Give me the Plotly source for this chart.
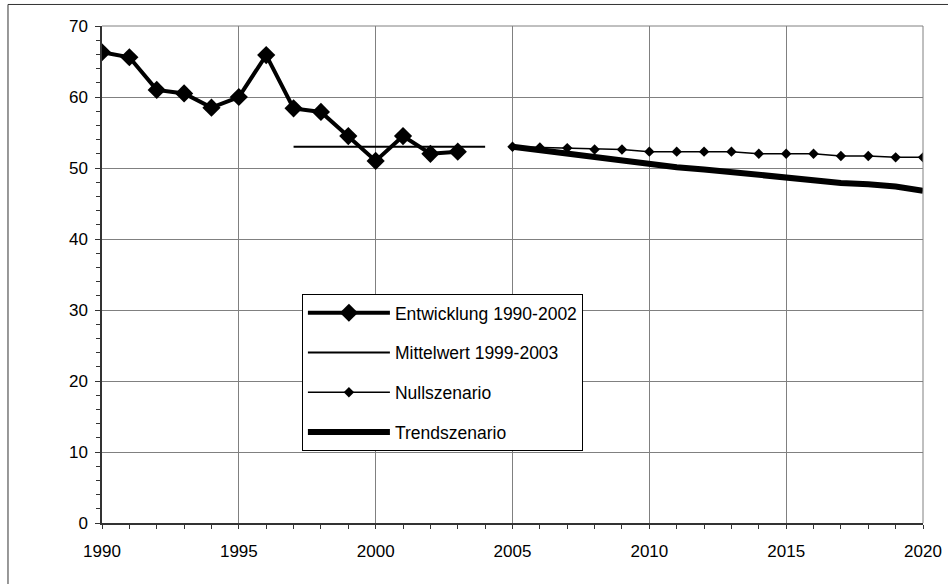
import plotly.graph_objects as go

# ---- data ----
years_hist = [1990, 1991, 1992, 1993, 1994, 1995, 1996, 1997, 1998, 1999, 2000, 2001, 2002, 2003]
entwicklung = [66.3, 65.6, 61.0, 60.5, 58.5, 60.0, 65.9, 58.4, 57.9, 54.5, 51.0, 54.5, 52.0, 52.3]

years_mittel = [1997, 2004]
mittelwert = [53.0, 53.0]

years_scen = [2005, 2006, 2007, 2008, 2009, 2010, 2011, 2012, 2013, 2014, 2015, 2016, 2017, 2018, 2019, 2020]
nullszenario = [53.0, 52.9, 52.8, 52.6, 52.6, 52.3, 52.3, 52.3, 52.3, 52.0, 52.0, 52.0, 51.7, 51.7, 51.5, 51.5]
trendszenario = [53.0, 52.5, 52.0, 51.6, 51.1, 50.6, 50.1, 49.8, 49.4, 49.1, 48.7, 48.4, 47.9, 47.7, 47.4, 46.8]

x_ticks = [1990, 1995, 2000, 2005, 2010, 2015, 2020]
y_ticks = [0, 10, 20, 30, 40, 50, 60, 70]

FONT = "Liberation Sans, Arial, sans-serif"

fig = go.Figure()
fig.add_trace(go.Scatter(
    x=years_hist, y=entwicklung, name="Entwicklung 1990-2002", mode="lines+markers",
    line=dict(color="black", width=4), marker=dict(symbol="diamond", size=14, color="black"),
    legendgroup="a"))
fig.add_trace(go.Scatter(
    x=years_mittel, y=mittelwert, name="Mittelwert 1999-2003", mode="lines",
    line=dict(color="black", width=2), legendgroup="b"))
fig.add_trace(go.Scatter(
    x=years_scen, y=nullszenario, name="Nullszenario", mode="lines+markers",
    line=dict(color="black", width=1.5), marker=dict(symbol="diamond", size=8, color="black"),
    legendgroup="c"))
fig.add_trace(go.Scatter(
    x=years_scen, y=trendszenario, name="Trendszenario", mode="lines",
    line=dict(color="black", width=6), legendgroup="d"))

fig.update_layout(
    width=948, height=584,
    margin=dict(l=102, r=25, t=26, b=61, autoexpand=False),
    paper_bgcolor="white", plot_bgcolor="white",
    font=dict(family=FONT, size=17, color="black"),
    showlegend=True,
    legend=dict(
        x=0.2435, y=0.461, xanchor="left", yanchor="top",
        bgcolor="white", bordercolor="black", borderwidth=1,
        font=dict(family=FONT, size=17.5, color="black"),
        traceorder="grouped", tracegroupgap=14, itemwidth=82,
    ),
    xaxis=dict(
        range=[1990, 2020], tickvals=x_ticks, ticktext=[str(v) for v in x_ticks],
        showgrid=True, gridcolor="#808080", gridwidth=1,
        showline=True, linecolor="#333333", linewidth=1.5,
        ticks="outside", ticklen=4, tickcolor="#333333",
        minor=dict(dtick=1, ticks="outside", ticklen=4, tickcolor="#333333", showgrid=False),
        zeroline=False, ticklabelstandoff=8, automargin=False,
        tickfont=dict(family=FONT, size=17),
    ),
    yaxis=dict(
        range=[0, 70], tickvals=y_ticks,
        showgrid=True, gridcolor="#808080", gridwidth=1,
        showline=True, linecolor="#333333", linewidth=1.5,
        ticks="outside", ticklen=5, tickcolor="#333333",
        minor=dict(dtick=2, ticks="outside", ticklen=4, tickcolor="#333333", showgrid=False),
        zeroline=False, ticklabelstandoff=4, automargin=False,
        tickfont=dict(family=FONT, size=17),
    ),
    shapes=[
        dict(type="rect", xref="paper", yref="paper",
             x0=-0.1145, x1=1.2, y0=-0.3, y1=1.0433,
             line=dict(color="#333333", width=1), fillcolor="rgba(0,0,0,0)", layer="below"),
        dict(type="line", xref="paper", yref="paper", x0=0, x1=1, y0=1, y1=1,
             line=dict(color="#808080", width=1)),
        dict(type="line", xref="paper", yref="paper", x0=1, x1=1, y0=0, y1=1,
             line=dict(color="#808080", width=1)),
    ],
)

fig.write_html("out.html", config={"displayModeBar": False},
               post_script="document.body.style.margin='0';")
